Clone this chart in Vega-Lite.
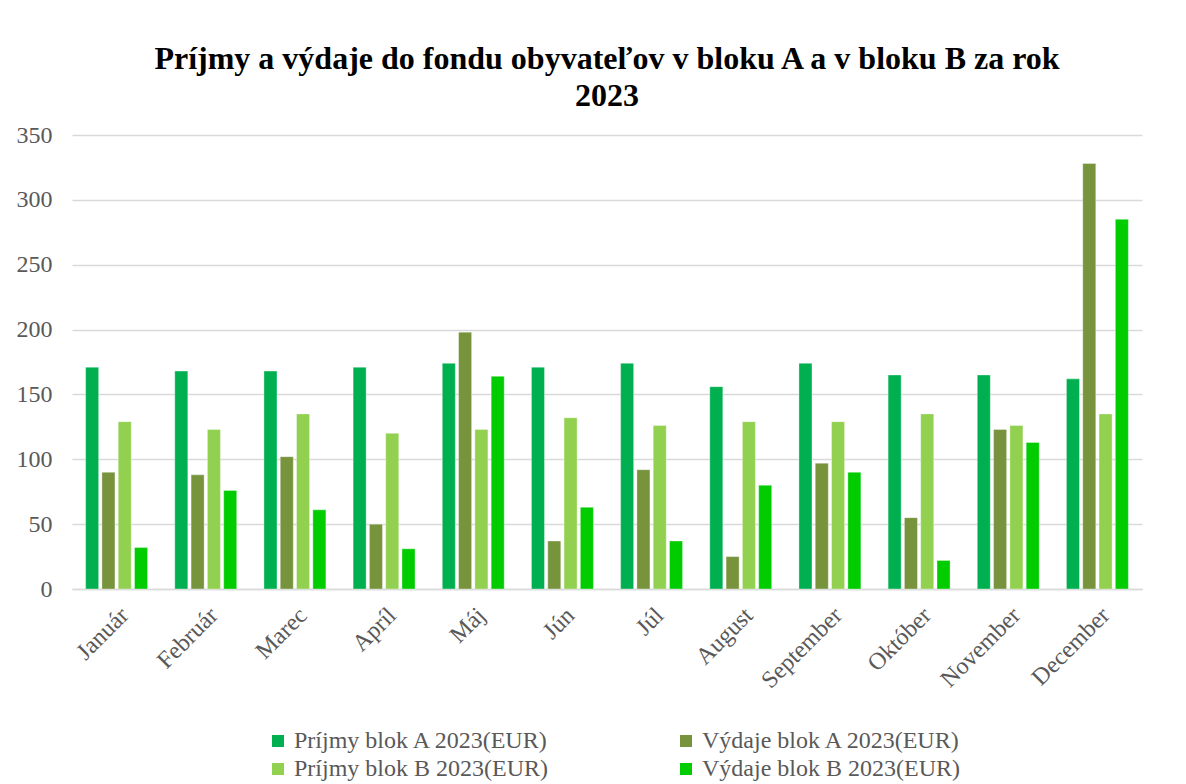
{
  "$schema": "https://vega.github.io/schema/vega-lite/v6.json",
  "width": 1070,
  "height": 454,
  "autosize": {"type": "none"},
  "padding": {"left": 72, "top": 135, "right": 44, "bottom": 195},
  "background": "white",
  "title": {
    "text": ["Príjmy a výdaje do fondu obyvateľov v bloku A a v bloku B za rok", "2023"],
    "font": "Liberation Serif",
    "fontSize": 32,
    "fontWeight": "bold",
    "color": "#000000",
    "anchor": "middle",
    "lineHeight": 37,
    "offset": 10
  },
  "data": {
    "values": [
      {"month": "Január", "series": "Príjmy blok A 2023(EUR)", "value": 171},
      {"month": "Január", "series": "Výdaje blok A 2023(EUR)", "value": 90},
      {"month": "Január", "series": "Príjmy blok B 2023(EUR)", "value": 129},
      {"month": "Január", "series": "Výdaje blok B 2023(EUR)", "value": 32},
      {"month": "Február", "series": "Príjmy blok A 2023(EUR)", "value": 168},
      {"month": "Február", "series": "Výdaje blok A 2023(EUR)", "value": 88},
      {"month": "Február", "series": "Príjmy blok B 2023(EUR)", "value": 123},
      {"month": "Február", "series": "Výdaje blok B 2023(EUR)", "value": 76},
      {"month": "Marec", "series": "Príjmy blok A 2023(EUR)", "value": 168},
      {"month": "Marec", "series": "Výdaje blok A 2023(EUR)", "value": 102},
      {"month": "Marec", "series": "Príjmy blok B 2023(EUR)", "value": 135},
      {"month": "Marec", "series": "Výdaje blok B 2023(EUR)", "value": 61},
      {"month": "Apríl", "series": "Príjmy blok A 2023(EUR)", "value": 171},
      {"month": "Apríl", "series": "Výdaje blok A 2023(EUR)", "value": 50},
      {"month": "Apríl", "series": "Príjmy blok B 2023(EUR)", "value": 120},
      {"month": "Apríl", "series": "Výdaje blok B 2023(EUR)", "value": 31},
      {"month": "Máj", "series": "Príjmy blok A 2023(EUR)", "value": 174},
      {"month": "Máj", "series": "Výdaje blok A 2023(EUR)", "value": 198},
      {"month": "Máj", "series": "Príjmy blok B 2023(EUR)", "value": 123},
      {"month": "Máj", "series": "Výdaje blok B 2023(EUR)", "value": 164},
      {"month": "Jún", "series": "Príjmy blok A 2023(EUR)", "value": 171},
      {"month": "Jún", "series": "Výdaje blok A 2023(EUR)", "value": 37},
      {"month": "Jún", "series": "Príjmy blok B 2023(EUR)", "value": 132},
      {"month": "Jún", "series": "Výdaje blok B 2023(EUR)", "value": 63},
      {"month": "Júl", "series": "Príjmy blok A 2023(EUR)", "value": 174},
      {"month": "Júl", "series": "Výdaje blok A 2023(EUR)", "value": 92},
      {"month": "Júl", "series": "Príjmy blok B 2023(EUR)", "value": 126},
      {"month": "Júl", "series": "Výdaje blok B 2023(EUR)", "value": 37},
      {"month": "August", "series": "Príjmy blok A 2023(EUR)", "value": 156},
      {"month": "August", "series": "Výdaje blok A 2023(EUR)", "value": 25},
      {"month": "August", "series": "Príjmy blok B 2023(EUR)", "value": 129},
      {"month": "August", "series": "Výdaje blok B 2023(EUR)", "value": 80},
      {"month": "September", "series": "Príjmy blok A 2023(EUR)", "value": 174},
      {"month": "September", "series": "Výdaje blok A 2023(EUR)", "value": 97},
      {"month": "September", "series": "Príjmy blok B 2023(EUR)", "value": 129},
      {"month": "September", "series": "Výdaje blok B 2023(EUR)", "value": 90},
      {"month": "Október", "series": "Príjmy blok A 2023(EUR)", "value": 165},
      {"month": "Október", "series": "Výdaje blok A 2023(EUR)", "value": 55},
      {"month": "Október", "series": "Príjmy blok B 2023(EUR)", "value": 135},
      {"month": "Október", "series": "Výdaje blok B 2023(EUR)", "value": 22},
      {"month": "November", "series": "Príjmy blok A 2023(EUR)", "value": 165},
      {"month": "November", "series": "Výdaje blok A 2023(EUR)", "value": 123},
      {"month": "November", "series": "Príjmy blok B 2023(EUR)", "value": 126},
      {"month": "November", "series": "Výdaje blok B 2023(EUR)", "value": 113},
      {"month": "December", "series": "Príjmy blok A 2023(EUR)", "value": 162},
      {"month": "December", "series": "Výdaje blok A 2023(EUR)", "value": 328},
      {"month": "December", "series": "Príjmy blok B 2023(EUR)", "value": 135},
      {"month": "December", "series": "Výdaje blok B 2023(EUR)", "value": 285}
    ]
  },
  "mark": {"type": "bar", "stroke": "#ffffff", "strokeOpacity": 0.5, "strokeWidth": 0.7},
  "encoding": {
    "x": {
      "field": "month",
      "type": "nominal",
      "sort": ["Január", "Február", "Marec", "Apríl", "Máj", "Jún", "Júl", "August", "September", "Október", "November", "December"],
      "scale": {"paddingInner": 0, "paddingOuter": 0},
      "axis": {
        "title": null,
        "labelAngle": -45,
        "labelFont": "Liberation Serif",
        "labelFontSize": 24,
        "labelColor": "#595959",
        "labelPadding": 14,
        "ticks": false,
        "domainColor": "#D9D9D9",
        "domainWidth": 1.5,
        "labelOverlap": false
      }
    },
    "xOffset": {
      "field": "series",
      "type": "nominal",
      "sort": ["Príjmy blok A 2023(EUR)", "Výdaje blok A 2023(EUR)", "Príjmy blok B 2023(EUR)", "Výdaje blok B 2023(EUR)"],
      "scale": {"paddingInner": 0.2, "paddingOuter": 0.835}
    },
    "y": {
      "field": "value",
      "type": "quantitative",
      "scale": {"domain": [0, 350], "nice": false},
      "axis": {
        "title": null,
        "values": [0, 50, 100, 150, 200, 250, 300, 350],
        "labelFont": "Liberation Serif",
        "labelFontSize": 24,
        "labelColor": "#595959",
        "labelPadding": 20,
        "ticks": false,
        "domain": false,
        "gridColor": "#D9D9D9",
        "gridWidth": 1.5
      }
    },
    "color": {
      "field": "series",
      "type": "nominal",
      "scale": {
        "domain": ["Príjmy blok A 2023(EUR)", "Výdaje blok A 2023(EUR)", "Príjmy blok B 2023(EUR)", "Výdaje blok B 2023(EUR)"],
        "range": ["#00B050", "#77933C", "#92D050", "#00CC00"]
      },
      "legend": {
        "title": null,
        "orient": "none",
        "legendX": 194,
        "legendY": 594,
        "direction": "horizontal",
        "columns": 2,
        "columnPadding": 124,
        "rowPadding": 4,
        "symbolType": "square",
        "symbolSize": 144,
        "symbolStrokeWidth": 0,
        "labelFont": "Liberation Serif",
        "labelFontSize": 24,
        "labelColor": "#595959",
        "labelOffset": 4,
        "labelLimit": 400
      }
    }
  },
  "config": {
    "font": "Liberation Serif",
    "legend": {"labelFont": "Liberation Serif"},
    "view": {"stroke": null},
    "axis": {"gridOpacity": 1}
  }
}
